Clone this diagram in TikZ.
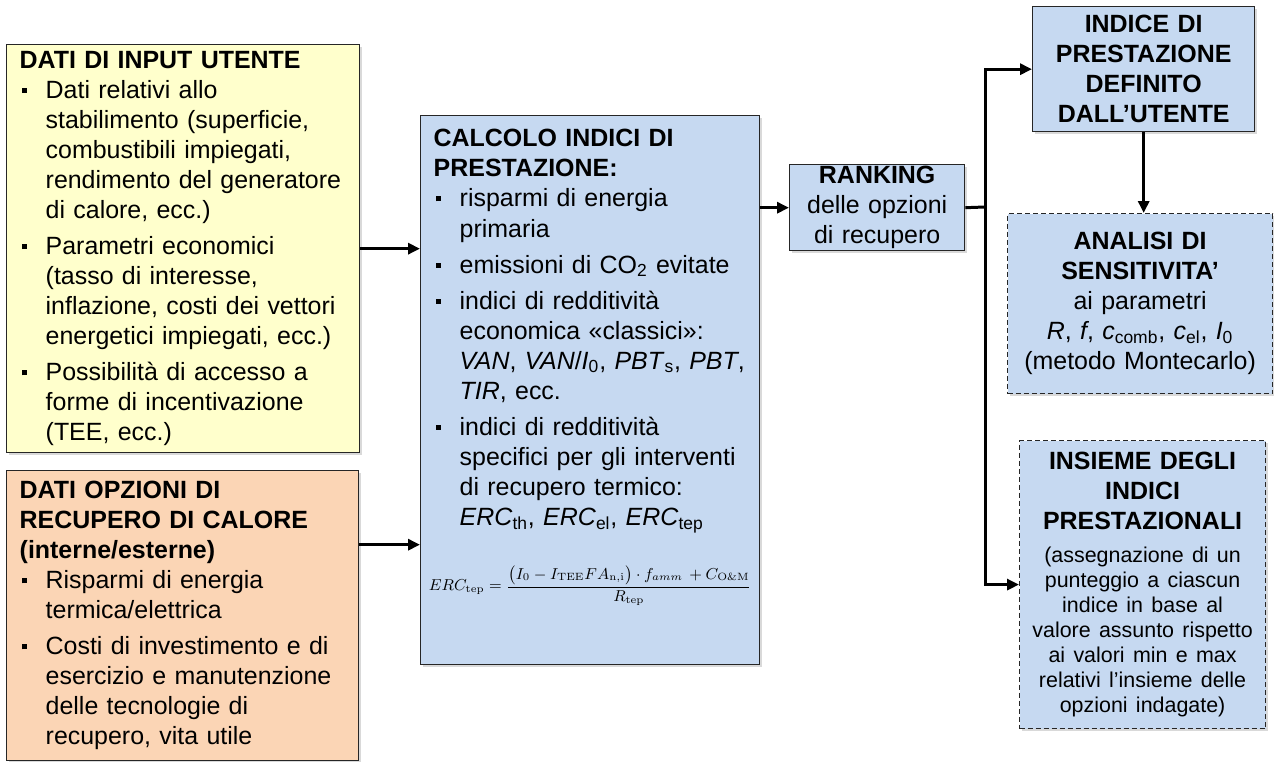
\documentclass[tikz,border=0pt]{standalone}
\usepackage[no-math]{fontspec}
\setmainfont{Liberation Sans}
\usepackage{amsmath}
\usetikzlibrary{arrows.meta,positioning,shadows}

\definecolor{boxyellow}{RGB}{255,255,204}
\definecolor{boxorange}{RGB}{251,213,181}
\definecolor{boxblue}{RGB}{198,217,241}
\definecolor{boxline}{RGB}{38,38,38}

% square bullet and list item (text kept indented by \leftskip)
\newcommand{\sqbul}{\makebox[0.52cm][l]{\hspace{0.04cm}\rule[0.22em]{0.1cm}{0.1cm}}}
\newcommand{\bitem}[1][0.12cm]{\par\vspace{#1}\leftskip=0.52cm\noindent\llap{\sqbul}\ignorespaces}
\newcommand{\sub}[1]{\textsubscript{#1}}

\begin{document}
\begin{tikzpicture}[
    x=0.02cm, y=-0.02cm,
    >=Triangle,
    % Define styles
    block/.style={rectangle, draw=boxline, line width=0.8pt, anchor=north west,
        inner xsep=0.26cm, inner ysep=0.05cm, font=\fontsize{14.2}{17.1}\selectfont,
        drop shadow={shadow xshift=0.05cm, shadow yshift=-0.05cm, opacity=0.3}},
    datain/.style={block, fill=boxyellow, align=left, text width=6.54cm, minimum width=7.06cm, minimum height=8.16cm},
    datarec/.style={block, fill=boxorange, align=left, text width=6.52cm, minimum width=7.04cm, minimum height=5.8cm},
    calcbox/.style={block, fill=boxblue, align=left, text width=6.26cm, minimum width=6.78cm, minimum height=10.98cm},
    result/.style={block, fill=boxblue, align=center, inner xsep=0.05cm},
    optbox/.style={result, line width=0.7pt, dash pattern=on 0.1cm off 0.06cm},
    arrow/.style={-{Triangle[length=0.24cm, width=0.22cm]}, line width=1.7pt, black},
    link/.style={line width=1.7pt, black}
]
\useasboundingbox (0,0) rectangle (1274,761);

% Input data
\node[datain] (input) at (6,44) {%
\textbf{DATI DI INPUT UTENTE}
\bitem[0pt] Dati relativi allo\\ stabilimento (superficie,\\ combustibili impiegati,\\ rendimento del generatore\\ di calore, ecc.)
\bitem Parametri economici\\ (tasso di interesse,\\ inflazione, costi dei vettori\\ energetici impiegati, ecc.)
\bitem Possibilità di accesso a\\ forme di incentivazione\\ (TEE, ecc.)\par};

\node[datarec] (recup) at (6,470) {%
\textbf{DATI OPZIONI DI\\ RECUPERO DI CALORE\\ (interne/esterne)}
\bitem[0pt] Risparmi di energia\\ termica/elettrica
\bitem Costi di investimento e di\\ esercizio e manutenzione\\ delle tecnologie di\\ recupero, vita utile\par};

% Performance indices
\node[calcbox] (calc) at (420,115) {%
\textbf{CALCOLO INDICI DI\\ PRESTAZIONE:}
\bitem[0pt] risparmi di energia\\ primaria
\bitem emissioni di CO\sub{2} evitate
\bitem indici di redditività\\ economica «classici»:\\ \textit{VAN}, \textit{VAN}/\textit{I}\sub{0}, \textit{PBT}\sub{s}, \textit{PBT},\\ \textit{TIR}, ecc.
\bitem indici di redditività\\ specifici per gli interventi\\ di recupero termico:\\ \textit{ERC}\sub{th}, \textit{ERC}\sub{el}, \textit{ERC}\sub{tep}
\par\leftskip=0pt\vspace{0.62cm}
{\fontsize{9.2}{11}\selectfont\makebox[\linewidth][c]{$ERC_{\mathrm{tep}}=\dfrac{\bigl(I_0-I_{\mathrm{TEE}}FA_{\mathrm{n,i}}\bigr)\cdot f_{amm}\,+C_{\mathrm{O\&M}}}{R_{\mathrm{tep}}}$}\rule[-1.2cm]{0pt}{1.2cm}\par}};

% Ranking and outputs
\node[result, text width=3.4cm, minimum width=3.5cm, minimum height=1.72cm, inner ysep=0pt] (rank) at (789,164)
    {\textbf{RANKING}\\ delle opzioni\\ di recupero};
\node[result, text width=4.3cm, minimum width=4.44cm, minimum height=2.5cm] (indice) at (1032,6)
    {\textbf{INDICE DI\\ PRESTAZIONE\\ DEFINITO\\ DALL’UTENTE}};
\node[optbox, text width=5.1cm, minimum width=5.3cm, minimum height=3.6cm] (analisi) at (1007,213)
    {\textbf{ANALISI DI\\ SENSITIVITA’}\\ ai parametri\\ \textit{R}, \textit{f}, \textit{c}\sub{comb}, \textit{c}\sub{el}, \textit{I}\sub{0}\\ (metodo Montecarlo)};
\node[optbox, text width=4.7cm, minimum width=4.92cm, minimum height=5.76cm] (insieme) at (1019,440)
    {\textbf{INSIEME DEGLI\\ INDICI\\ PRESTAZIONALI}\\[0.16cm]
     {\fontsize{12.2}{14.2}\selectfont (assegnazione di un\\ punteggio a ciascun\\ indice in base al\\ valore assunto rispetto\\ ai valori min e max\\ relativi l’insieme delle\\ opzioni indagate)\par}};

% Connections
\coordinate (recout) at ([yshift=1.42cm]recup.east);
\coordinate (fork) at (985,207);
\draw[arrow] (input.east) -- (input.east -| calc.west);
\draw[arrow] (recout) -- (recout -| calc.west);
\draw[arrow] (calc.east |- rank.west) -- (rank.west);
\draw[link] (rank.east) -- (fork);
\draw[arrow] (fork) |- (indice.west);
\draw[arrow] (fork) |- (insieme.west);
\draw[arrow] (indice.south) -- (indice.south |- analisi.north);

\end{tikzpicture}
\end{document}
